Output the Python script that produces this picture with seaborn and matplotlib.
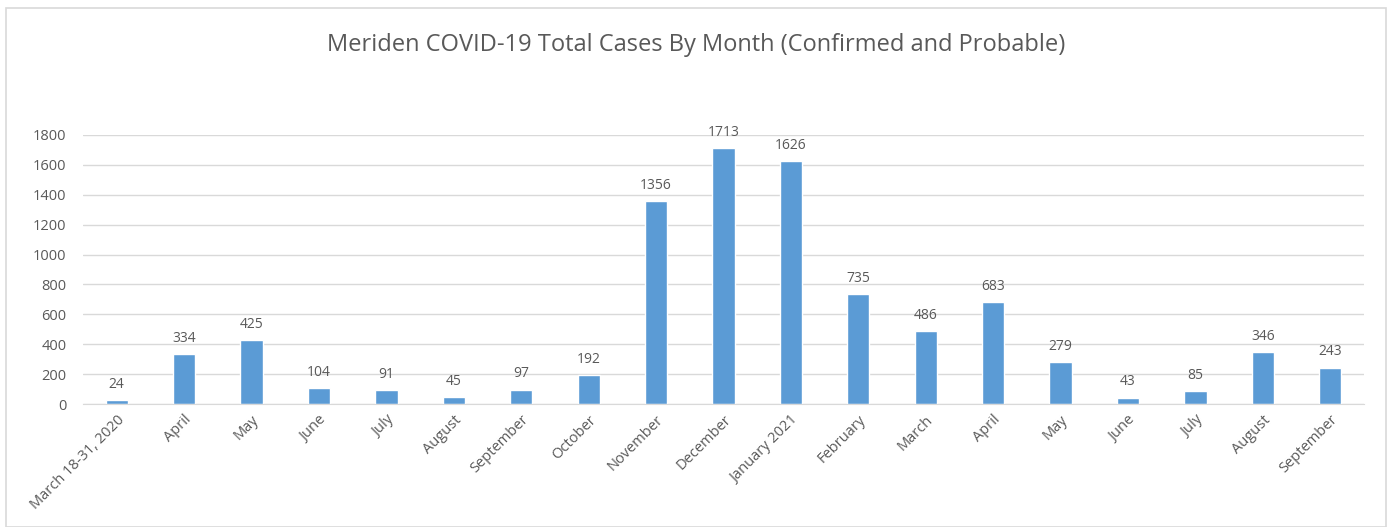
import matplotlib
matplotlib.use('Agg')
from matplotlib import pyplot as plt
import matplotlib.patches as patches
import pandas as pd
import seaborn as sns

months = ['March 18-31, 2020', 'April', 'May', 'June', 'July', 'August', 'September',
          'October', 'November', 'December', 'January 2021', 'February', 'March',
          'April', 'May', 'June', 'July', 'August', 'September']
cases = [24, 334, 425, 104, 91, 45, 97, 192, 1356, 1713, 1626, 735, 486, 683,
         279, 43, 85, 346, 243]

sns.set_style('white')
plt.rcParams['font.family'] = ['Open Sans', 'DejaVu Sans']

# unique keys so repeated month names get their own bar
df = pd.DataFrame({'key': [str(i) for i in range(len(months))], 'cases': cases})

fig = plt.figure(figsize=(13.92, 5.27), dpi=100)
ax = fig.add_axes([83 / 1392, (527 - 404) / 527, (1364 - 83) / 1392, (404 - 135) / 527])

sns.barplot(data=df, x='key', y='cases', color='#5B9BD5', saturation=1, width=0.33, ax=ax)

ax.set_ylim(0, 1800)
ax.set_yticks(range(0, 1801, 200))
ax.yaxis.grid(True, color='#D9D9D9', linewidth=1)
ax.set_axisbelow(True)
for s in ['top', 'right', 'left']:
    ax.spines[s].set_visible(False)
ax.spines['bottom'].set_color('#D9D9D9')
ax.tick_params(axis='both', length=0, colors='#595959', labelsize=10.5)
ax.tick_params(axis='y', pad=12)
ax.set_xlabel('')
ax.set_ylabel('')
ax.set_xticks(range(len(months)))
ax.set_xticklabels(months, rotation=45, ha='right', rotation_mode='anchor')
ax.tick_params(axis='x', pad=6)

for i, v in enumerate(cases):
    ax.annotate(str(v), (i, v), xytext=(0, 6), textcoords='offset points',
                ha='center', va='bottom', fontsize=10, color='#595959')

fig.text(0.5, 1 - 45 / 527, 'Meriden COVID-19 Total Cases By Month (Confirmed and Probable)',
         ha='center', va='center', fontsize=17, color='#595959')

# chart border
fig.patches.append(patches.Rectangle((6 / 1392, 0), 1 - 12 / 1392, 1 - 8 / 527,
                                     transform=fig.transFigure, fill=False,
                                     edgecolor='#D9D9D9', linewidth=1.2))

fig.savefig('out.png', dpi=100)
